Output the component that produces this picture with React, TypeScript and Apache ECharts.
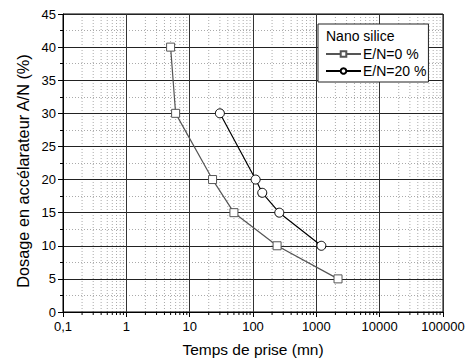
import React, { useEffect, useRef } from "react";
import * as echarts from "echarts";

const seriesNames = ["E/N=0 %", "E/N=20 %"];
const timeE0 = [5, 6, 23, 50, 240, 2200];
const doseE0 = [40, 30, 20, 15, 10, 5];
const timeE20 = [30, 110, 140, 260, 1200];
const doseE20 = [30, 20, 18, 15, 10];
const decades = [0.1, 1, 10, 100, 1000, 10000];
const minorSteps = [2, 3, 4, 5, 6, 7, 8, 9];
const minorXValues: number[] = [];
decades.forEach((d) => minorSteps.forEach((m) => minorXValues.push(+(d * m).toPrecision(3))));

const FONT = "Liberation Sans, Arial, Helvetica, sans-serif";

export default function App() {
  const ref = useRef<HTMLDivElement>(null);
  useEffect(() => {
    if (!ref.current) return;
    const chart = echarts.init(ref.current, null, { renderer: "svg" });
    chart.setOption({
      animation: false,
      backgroundColor: "#fff",
      grid: {
        left: 63,
        right: 27,
        top: 14,
        bottom: 51,
        show: true,
        borderColor: "#000",
        borderWidth: 1,
        backgroundColor: "transparent",
      },
      xAxis: {
        type: "log",
        logBase: 10,
        min: 0.1,
        max: 100000,
        name: "Temps de prise (mn)",
        nameLocation: "middle",
        nameGap: 29,
        nameTextStyle: { fontFamily: FONT, fontSize: 15.5, color: "#000" },
        axisLine: { lineStyle: { color: "#000", width: 1 } },
        axisTick: { show: true, inside: false, length: 5, lineStyle: { color: "#000" } },
        axisLabel: {
          fontFamily: FONT,
          fontSize: 13,
          color: "#000",
          margin: 8,
          formatter: (v: number) => (v < 1 ? "0,1" : String(Math.round(v))),
        },
        splitLine: { show: true, lineStyle: { color: "#333", width: 1 } },
      },
      yAxis: {
        type: "value",
        min: 0,
        max: 45,
        interval: 5,
        name: "Dosage en accélarateur A/N (%)",
        nameLocation: "middle",
        nameGap: 26,
        nameTextStyle: { fontFamily: FONT, fontSize: 16.3, color: "#000", padding: [0, 16, 0, 0] },
        axisLine: { show: true, lineStyle: { color: "#000", width: 1 } },
        axisTick: { show: true, inside: false, length: 5, lineStyle: { color: "#000" } },
        minorTick: { show: true, splitNumber: 2, length: 3, lineStyle: { color: "#000" } },
        minorSplitLine: { show: true, lineStyle: { color: "#aaa", type: [1, 2], width: 1 } },
        axisLabel: { fontFamily: FONT, fontSize: 13, color: "#000", margin: 7 },
        splitLine: { show: true, lineStyle: { color: "#222", width: 1 } },
      },
      legend: {
        data: seriesNames,
        orient: "vertical",
        left: 318,
        top: 24,
        padding: [23, 2, 4, 7],
        itemWidth: 35,
        itemHeight: 7,
        itemGap: 3,
        borderColor: "#222",
        borderWidth: 1,
        backgroundColor: "#fff",
        textStyle: { fontFamily: FONT, fontSize: 14, color: "#000", padding: [0, 0, 0, -3] },
      },
      graphic: [
        {
          type: "text",
          left: 326,
          top: 29,
          z: 100,
          style: { text: "Nano silice", fontFamily: FONT, fontSize: 14, fill: "#000" },
        },
      ],
      series: [
        {
          type: "custom",
          name: "minor",
          silent: true,
          z: -1,
          clip: false,
          data: minorXValues.map((v) => [v, 0]),
          renderItem: (params: any, api: any) => {
            const x = api.value(0);
            const p0 = api.coord([x, 0]);
            const p1 = api.coord([x, 45]);
            return {
              type: "group",
              children: [
                {
                  type: "line",
                  shape: { x1: p0[0], y1: p0[1], x2: p1[0], y2: p1[1] },
                  style: { stroke: "#aaa", lineWidth: 1, lineDash: [1, 2] },
                },
                {
                  type: "line",
                  shape: { x1: p0[0], y1: p0[1], x2: p0[0], y2: p0[1] + 3 },
                  style: { stroke: "#000", lineWidth: 1 },
                },
              ],
            };
          },
        },
        {
          type: "line",
          name: seriesNames[0],
          data: timeE0.map((t, i) => [t, doseE0[i]]),
          symbol: "rect",
          symbolSize: 8,
          lineStyle: { color: "#555", width: 1.2 },
          itemStyle: { color: "#fff", borderColor: "#555", borderWidth: 1 },
          z: 5,
        },
        {
          type: "line",
          name: seriesNames[1],
          data: timeE20.map((t, i) => [t, doseE20[i]]),
          symbol: "circle",
          symbolSize: 9,
          lineStyle: { color: "#000", width: 1.2 },
          itemStyle: { color: "#fff", borderColor: "#000", borderWidth: 1 },
          z: 5,
        },
      ],
    });
    return () => chart.dispose();
  }, []);
  return (
    <div
      ref={ref}
      style={{ position: "absolute", left: 0, top: 0, width: 470, height: 363 }}
    />
  );
}
